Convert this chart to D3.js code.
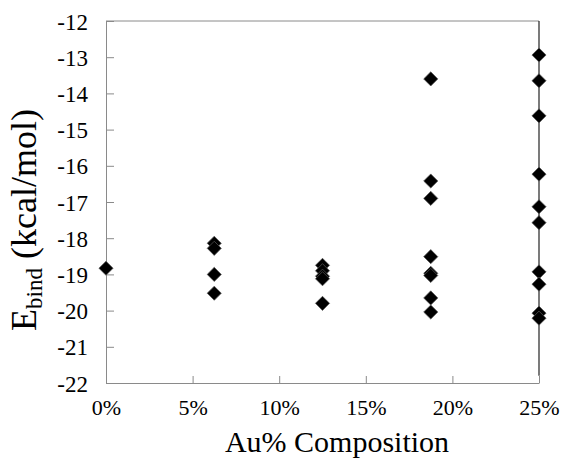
<!DOCTYPE html>
<html>
<head>
<meta charset="utf-8">
<script src="https://cdn.jsdelivr.net/npm/d3@7"></script>
</head>
<body style="margin:0">
<script>
// composition groups (Au fraction) and binding energies
var compositions = [0, 0.0625, 0.125, 0.1875, 0.25];
var ebind0 = [-18.83];
var ebind625 = [-18.14, -18.28, -19.0, -19.52];
var ebind125 = [-18.75, -18.9, -19.05, -19.12, -19.8];
var ebind1875 = [-13.6, -16.42, -16.9, -18.51, -18.97, -19.03, -19.65, -20.04];
var ebind25 = [-12.94, -13.65, -14.62, -16.23, -17.13, -17.57, -18.93, -19.27, -20.07, -20.21];
var yTicks = [-22, -21, -20, -19, -18, -17, -16, -15, -14, -13, -12];
var xTicks = [0, 0.05, 0.10, 0.15, 0.20, 0.25];

var groups = [ebind0, ebind625, ebind125, ebind1875, ebind25];
var points = [];
groups.forEach(function(g, i) {
  g.forEach(function(v) { points.push({ x: compositions[i], y: v }); });
});

var serif = "Times New Roman";
var width = 562, height = 460;
var margin = { left: 106, right: 23, top: 21, bottom: 77 };

var svg = d3.select("body").append("svg")
  .attr("width", width)
  .attr("height", height)
  .attr("font-family", serif);

var x = d3.scaleLinear().domain([0, 0.25]).range([margin.left, width - margin.right]);
var y = d3.scaleLinear().domain([-22, -12]).range([height - margin.bottom, margin.top]);

var axisGray = "#8a8a8a";

// top border
svg.append("line")
  .attr("x1", x(0)).attr("x2", x(0.25))
  .attr("y1", y(-12)).attr("y2", y(-12))
  .attr("stroke", axisGray);

// dark right edge
svg.append("line")
  .attr("x1", x(0.25)).attr("x2", x(0.25))
  .attr("y1", y(-12)).attr("y2", y(-21.8))
  .attr("stroke", "#222").attr("stroke-width", 1.2);

// y axis, ticks pointing inward
var yAxis = svg.append("g")
  .attr("transform", "translate(" + x(0) + ",0)")
  .call(d3.axisLeft(y).tickValues(yTicks).tickSize(-8).tickSizeOuter(0).tickPadding(18).tickFormat(d3.format("d")));

yAxis.attr("font-family", serif).attr("font-size", 23);
yAxis.selectAll("path, line").attr("stroke", axisGray);
yAxis.selectAll("text")
  .attr("dy", "0.35em")
  .attr("font-family", serif)
  .text(function(d) { return "-" + Math.abs(d); });

// x axis, ticks pointing up
var xAxis = svg.append("g")
  .attr("transform", "translate(0," + y(-22) + ")")
  .call(d3.axisBottom(x).tickValues(xTicks).tickSize(-7).tickSizeOuter(0).tickFormat(d3.format(".0%")));

xAxis.attr("font-family", serif).attr("font-size", 22);
xAxis.selectAll("path, line").attr("stroke", axisGray);
xAxis.selectAll("text")
  .attr("y", 32)
  .attr("dy", null)
  .attr("font-family", serif);

// markers
var diamond = d3.symbol().type(d3.symbolSquare).size(100);
svg.append("g").selectAll("path")
  .data(points)
  .join("path")
  .attr("d", diamond)
  .attr("transform", function(d) { return "translate(" + x(d.x) + "," + y(d.y) + ") rotate(45)"; })
  .attr("fill", "#000")
  .attr("stroke", "#555")
  .attr("stroke-width", 0.7);

// x title
svg.append("text")
  .attr("x", 337)
  .attr("y", 452)
  .attr("text-anchor", "middle")
  .attr("font-family", serif)
  .attr("font-size", 30)
  .text("Au% Composition");

// y title with subscript
var ylab = svg.append("text")
  .attr("transform", "translate(36,220) rotate(-90)")
  .attr("text-anchor", "middle")
  .attr("font-family", serif)
  .attr("font-size", 36);
ylab.append("tspan").text("E");
ylab.append("tspan").attr("dy", 6).attr("font-size", 23).text("bind");
ylab.append("tspan").attr("dy", -6).text(" (kcal/mol)");
</script>
</body>
</html>
